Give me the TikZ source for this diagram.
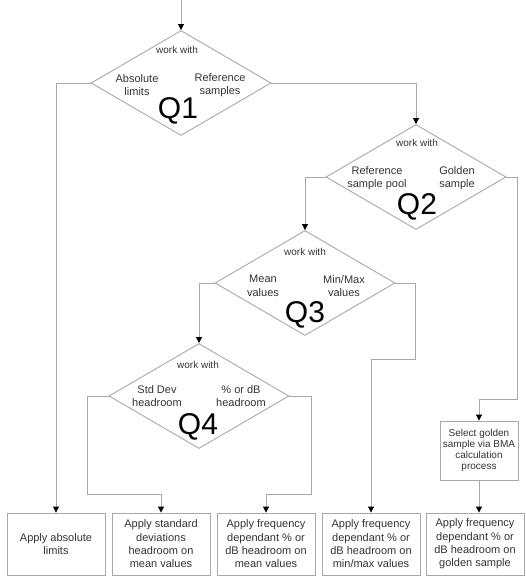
\documentclass[tikz,border=0pt]{standalone}
\usepackage{fontspec}
\setmainfont{Liberation Sans}
\usetikzlibrary{shapes.geometric,arrows.meta,calc}
\definecolor{ln}{HTML}{A8A8A8}
\definecolor{tx}{HTML}{333333}
\begin{document}
\begin{tikzpicture}[x=1pt,y=-1pt,
  conn/.style={draw=ln, line width=0.9pt, -{Triangle[width=6pt,length=6pt,color=black]}},
  dia/.style={diamond, draw=ln, line width=0.9pt, minimum width=180pt, minimum height=105pt, inner sep=0pt},
  box/.style={draw=ln, line width=0.9pt, minimum width=98pt, minimum height=62pt, inner sep=1pt, align=center, text=tx, font=\fontsize{11}{13.3}\selectfont},
  selbox/.style={draw=ln, line width=0.9pt, minimum width=78pt, minimum height=59pt, inner sep=1pt, align=center, text=tx, font=\fontsize{10}{11}\selectfont},
  wk/.style={inner sep=0pt, text=tx, font=\fontsize{10}{12}\selectfont},
  opt/.style={inner sep=0pt, align=center, text=tx, font=\fontsize{11}{13.5}\selectfont},
  ql/.style={inner sep=0pt, text=black, font=\fontsize{30}{30}\selectfont}
]
\useasboundingbox (0,0) rectangle (526,576);

% diamonds
\node[dia] (q1) at (181,83) {};
\node[dia] (q2) at (416,177) {};
\node[dia] (q3) at (305,283) {};
\node[dia] (q4) at (199,396) {};

% diamond texts
\node[wk] (q1w) at ($(q1)+(-4,-33)$) {work with};
\node[opt] (q1l) at ($(q1)+(-44,2)$) {Absolute\\limits};
\node[opt] (q1r) at ($(q1)+(39,2)$) {Reference\\samples};
\node[ql] (q1q) at ($(q1)+(-3,28)$) {Q1};

\node[wk] (q2w) at ($(q2)+(1,-34)$) {work with};
\node[opt] (q2l) at ($(q2)+(-39,1)$) {Reference\\sample pool};
\node[opt] (q2r) at ($(q2)+(41,1)$) {Golden\\sample};
\node[ql] (q2q) at ($(q2)+(1,30)$) {Q2};

\node[wk] (q3w) at ($(q3)+(0,-31)$) {work with};
\node[opt] (q3l) at ($(q3)+(-42,3)$) {Mean\\values};
\node[opt] (q3r) at ($(q3)+(39,3)$) {Min/Max\\values};
\node[ql] (q3q) at ($(q3)+(0,32)$) {Q3};

\node[wk] (q4w) at ($(q4)+(-1,-31)$) {work with};
\node[opt] (q4l) at ($(q4)+(-42,0)$) {Std Dev\\headroom};
\node[opt] (q4r) at ($(q4)+(42,0)$) {\% or dB\\headroom};
\node[ql] (q4q) at ($(q4)+(-1,31)$) {Q4};

% boxes
\node[selbox] (sel) at (479,450.5) {Select golden\\sample via BMA\\calculation\\process};
\node[box] (b1) at (56,544) {Apply absolute\\limits};
\node[box] (b2) at (161,544) {Apply standard\\deviations\\headroom on\\mean values};
\node[box] (b3) at (266,544) {Apply frequency\\dependant \% or\\dB headroom on\\mean values};
\node[box] (b4) at (371,544) {Apply frequency\\dependant \% or\\dB headroom on\\min/max values};
\node[box] (b5) at (475,544) {Apply frequency\\dependant \% or\\dB headroom on\\golden sample};

% bend coordinates
\coordinate (start) at (181,0);
\coordinate (c2) at (517,399);
\coordinate (c3) at (415,359);
\coordinate (c4l) at (87,494);
\coordinate (c4r) at (311,494);

% connectors
\draw[conn] (start) -- (q1.north);
\draw[conn] (q1.west) -| (b1.north);
\draw[conn] (q1.east) -| (q2.north);
\draw[conn] (q2.west) -| (q3.north);
\draw[conn] (q2.east) -| (c2) -| (sel.north);
\draw[conn] (q3.west) -| (q4.north);
\draw[conn] (q3.east) -| (c3) -| (b4.north);
\draw[conn] (q4.west) -| (c4l) -| (b2.north);
\draw[conn] (q4.east) -| (c4r) -| (b3.north);
\draw[conn] (sel.south) -- (sel.south |- b5.north);
\end{tikzpicture}
\end{document}
